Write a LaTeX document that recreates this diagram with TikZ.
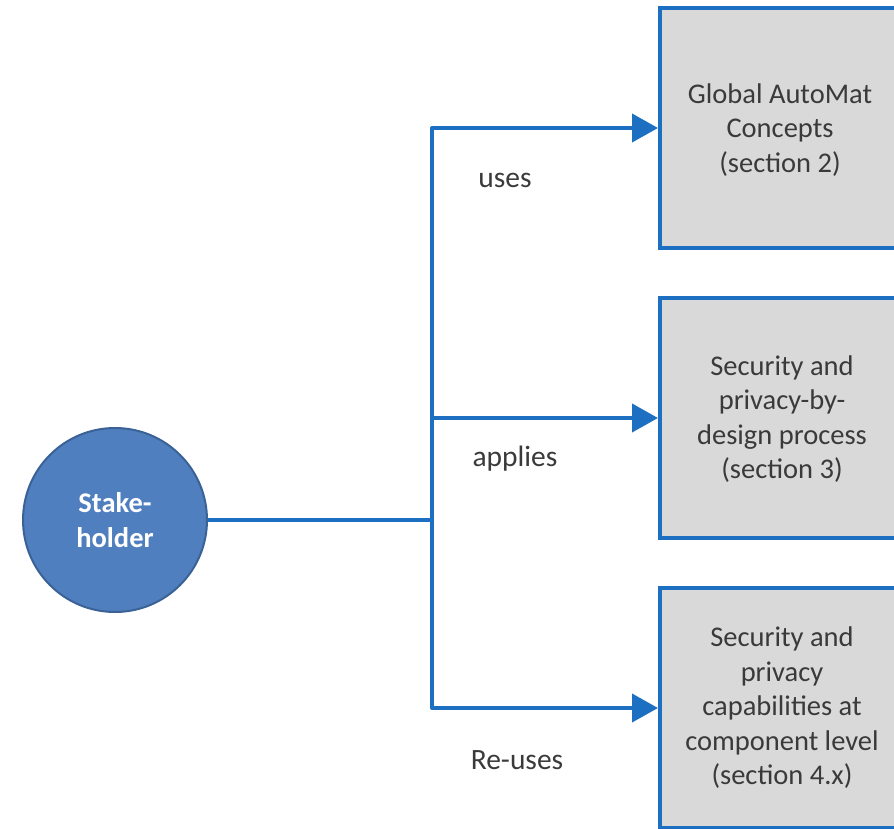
\documentclass[tikz,border=0pt]{standalone}
\usepackage{fontspec}
\setmainfont{Carlito}
\usetikzlibrary{arrows.meta}
\definecolor{linkblue}{HTML}{1C6FC1}
\definecolor{holderfill}{HTML}{4F7FBE}
\definecolor{holderedge}{HTML}{3A6296}
\definecolor{boxfill}{HTML}{D9D9D9}
\definecolor{textgray}{HTML}{3A3A3A}
\tikzset{
  holder/.style={circle, minimum size=184pt, inner sep=0pt, fill=holderfill,
    draw=holderedge, line width=2pt, text=white, align=center,
    font=\bfseries\fontsize{28.5}{35}\selectfont},
  panel/.style={rectangle, minimum width=244pt, minimum height=240pt,
    fill=boxfill, draw=linkblue, line width=4pt},
  paneltext/.style={align=center, text=textgray,
    font=\fontsize{28.5}{34.5}\selectfont},
  linklabel/.style={text=textgray, font=\fontsize{29.5}{32}\selectfont},
  link/.style={draw=linkblue, line width=4pt, line join=round},
  linkarrow/.style={link, -{Triangle[length=26pt,width=28pt]}}
}
\begin{document}
\begin{tikzpicture}[x=1pt,y=-1pt]
\useasboundingbox (0,0) rectangle (894,829);
\clip (0,0) rectangle (894,829);

% stakeholder
\node[holder] (sh) at (115,520) {Stake-\\holder};

% target boxes
\node[panel] (b1) at (782,128) {};
\node[panel] (b2) at (782,418) {};
\node[panel] (b3) at (782,708) {};
\node[paneltext] (t1) at (780,130) {Global AutoMat\\Concepts\\(section 2)};
\node[paneltext] (t2) at (782,419) {Security and\\privacy-by-\\design process\\(section 3)};
\node[paneltext] (t3) at (782,708) {Security and\\privacy\\capabilities at\\component level\\(section 4.x)};

% connectors
\coordinate (j) at (432,520);
\draw[link] (sh.east) -- (j);
\draw[linkarrow] (j) |- (b1.west);
\draw[linkarrow] (j) |- (b2.west);
\draw[linkarrow] (j) |- (b3.west);

% connector labels
\node[linklabel] (l1) at (505,180) {uses};
\node[linklabel] (l2) at (515,459) {applies};
\node[linklabel] (l3) at (517,760) {Re-uses};
\end{tikzpicture}
\end{document}
